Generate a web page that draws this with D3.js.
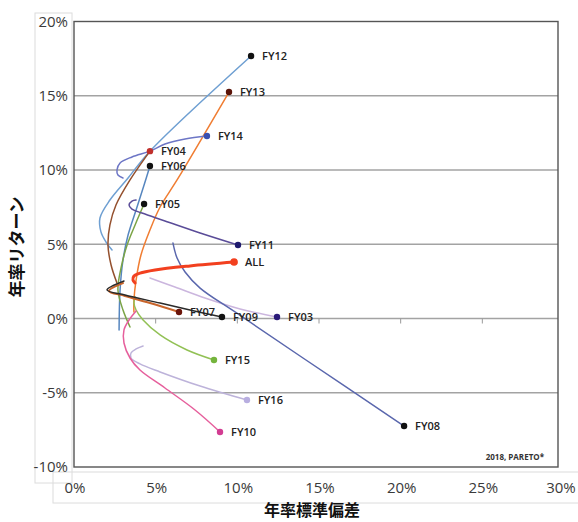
<!DOCTYPE html>
<html><head><meta charset="utf-8">
<script src="https://cdn.jsdelivr.net/npm/d3@7"></script>
<style>body{margin:0;background:#fff}svg{display:block}</style>
</head><body>
<script>
// x = annual std dev (%), y = annual return (%)
const xTicks = [0, 5, 10, 15, 20, 25, 30];
const yTicks = [20, 15, 10, 5, 0, -5, -10];
const names = ["FY12","FY13","FY14","FY04","FY06","FY05","FY11","FY08","FY03","FY07","FY09","FY15","FY16","FY10","ALL"];
const FY12 = [[2.33,4.61],[1.96,5.15],[1.65,5.83],[1.59,6.77],[2.20,7.98],[3.31,9.46],[4.65,11.27],[10.84,17.68]];
const FY13 = [[3.67,0.44],[3.67,1.25],[3.80,2.59],[4.10,4.28],[4.65,5.96],[5.27,7.51],[6.31,9.33],[9.49,15.25]];
const FY14 = [[3.00,9.46],[2.69,9.66],[2.63,10.0],[2.82,10.47],[3.55,10.88],[4.65,11.27],[5.57,11.75],[6.80,12.09],[8.14,12.29]];
const FY04 = [[2.63,2.39],[2.27,3.60],[2.08,4.95],[2.20,6.30],[2.57,7.64],[3.43,9.33],[4.65,11.27]];
const FY06 = [[2.76,-0.77],[2.82,1.92],[3.00,3.94],[3.31,5.62],[3.80,7.31],[4.29,8.99],[4.65,10.27]];
const FY05 = [[3.43,-0.57],[3.00,0.57],[2.69,1.92],[2.88,3.40],[3.25,4.95],[3.74,6.30],[4.29,7.71]];
const FY11 = [[3.80,7.98],[3.55,7.91],[3.37,7.64],[3.55,7.37],[4.16,7.10],[5.57,6.57],[7.72,5.76],[10.04,4.95]];
const FY08 = [[6.06,5.08],[6.31,4.07],[6.80,3.13],[7.72,2.05],[9.86,0.44],[14.02,-2.66],[20.21,-7.24]];
const FY03 = [[4.65,2.73],[6.18,2.12],[8.02,1.38],[10.17,0.64],[12.43,0.10]];
const FY07 = [[3.00,2.39],[2.14,1.85],[3.12,1.52],[4.65,1.04],[6.43,0.44]];
const FY09 = [[3.06,2.53],[2.02,1.92],[3.12,1.58],[5.27,1.04],[7.10,0.57],[9.06,0.10]];
const FY15 = [[3.74,1.45],[3.67,1.04],[3.80,0.57],[4.23,-0.10],[5.27,-1.11],[6.92,-2.12],[8.57,-2.79]];
const FY16 = [[4.23,-1.85],[3.80,-2.05],[3.49,-2.32],[3.49,-2.66],[4.04,-3.06],[5.27,-3.60],[7.72,-4.55],[10.59,-5.49]];
const FY10 = [[3.80,0.51],[3.37,-0.10],[3.06,-0.77],[3.06,-1.65],[3.43,-2.66],[4.04,-3.47],[5.57,-4.68],[7.41,-6.16],[8.94,-7.64]];
const ALL = [[3.74,2.39],[3.61,2.59],[3.67,2.86],[4.04,3.06],[4.96,3.27],[7.10,3.54],[9.80,3.80]];
const seriesData = {FY12,FY13,FY14,FY04,FY06,FY05,FY11,FY08,FY03,FY07,FY09,FY15,FY16,FY10,ALL};
const lineColors = {FY12:"#6e9fd2",FY13:"#f07d32",FY14:"#6d76c6",FY04:"#94502e",FY06:"#5686bf",FY05:"#7ba446",FY11:"#5a4c98",FY08:"#5a67ad",FY03:"#cbb6de",FY07:"#c8652c",FY09:"#2a2a2a",FY15:"#92c155",FY16:"#bdb3da",FY10:"#e65f9c",ALL:"#f2401f"};
const dotColors = {FY12:"#111",FY13:"#5a1308",FY14:"#3a4fb0",FY04:"#c0302c",FY06:"#111",FY05:"#111",FY11:"#1e1a6e",FY08:"#111",FY03:"#2a1a78",FY07:"#6a140a",FY09:"#111",FY15:"#74b43c",FY16:"#b8aee0",FY10:"#d23c92",ALL:"#f2401f"};

const W = 578, H = 522;
const svg = d3.select("body").append("svg").attr("width", W).attr("height", H);
const x = d3.scaleLinear().domain([0, 30]).range([74, 564]);
const y = d3.scaleLinear().domain([-10, 20]).range([467, 21.5]);
const frameRight = 558;

// faint label boxes
svg.append("rect").attr("x", 35).attr("y", 13).attr("width", 37).attr("height", 470)
  .attr("fill", "none").attr("stroke", "#dcdcdc").attr("stroke-width", 1);
svg.append("rect").attr("x", 53).attr("y", 472).attr("width", 530).attr("height", 31)
  .attr("fill", "none").attr("stroke", "#dcdcdc").attr("stroke-width", 1);

// gridlines
svg.append("g").selectAll("line").data(yTicks.filter(d => d < 20 && d > -10)).join("line")
  .attr("x1", x(0)).attr("x2", frameRight).attr("y1", d => y(d)).attr("y2", d => y(d))
  .attr("stroke", "#a3a3a3").attr("stroke-width", 1.6);
// small ticks on 0% line
svg.append("g").selectAll("line").data(xTicks.filter(d => d > 0 && d < 30)).join("line")
  .attr("x1", d => x(d)).attr("x2", d => x(d)).attr("y1", y(0)).attr("y2", y(0) + 5)
  .attr("stroke", "#9a9a9a").attr("stroke-width", 1);
// frame
svg.append("rect").attr("x", x(0)).attr("y", y(20)).attr("width", frameRight - x(0)).attr("height", y(-10) - y(20))
  .attr("fill", "none").attr("stroke", "#555").attr("stroke-width", 1.4);

// tick labels
svg.append("g").selectAll("text").data(yTicks).join("text")
  .attr("x", 68).attr("y", d => y(d)).attr("dy", "0.35em").attr("text-anchor", "end")
  .attr("font-family", "'Open Sans', sans-serif").attr("font-size", 15).attr("fill", "#3a3a3a")
  .text(d => d + "%");
svg.append("g").selectAll("text").data(xTicks).join("text")
  .attr("x", d => Math.min(x(d) + 1, 561)).attr("y", 488).attr("dy", "0.35em").attr("text-anchor", "middle")
  .attr("font-family", "'Open Sans', sans-serif").attr("font-size", 15).attr("fill", "#3a3a3a")
  .text(d => d + "%");

// axis titles
svg.append("text").attr("x", 312).attr("y", 510).attr("dy", "0.35em").attr("text-anchor", "middle")
  .attr("font-family", "'Noto Sans CJK JP', sans-serif").attr("font-weight", "bold").attr("font-size", 16)
  .attr("fill", "#111").text("年率標準偏差");
svg.append("text").attr("transform", "translate(17,247) rotate(-90)").attr("dy", "0.35em").attr("text-anchor", "middle")
  .attr("font-family", "'Noto Sans CJK JP', sans-serif").attr("font-weight", "bold").attr("font-size", 17)
  .attr("fill", "#111").text("年率リターン");

// curves
const line = d3.line().x(d => x(d[0])).y(d => y(d[1])).curve(d3.curveCatmullRom.alpha(0.5));
const order = ["FY03","FY16","FY08","FY12","FY13","FY14","FY04","FY06","FY05","FY11","FY15","FY10","FY07","FY09","ALL"];
const g = svg.append("g");
order.forEach(n => {
  g.append("path").attr("d", line(seriesData[n])).attr("fill", "none")
    .attr("stroke", lineColors[n])
    .attr("stroke-width", n === "ALL" ? 3 : (n === "FY07" ? 2 : 1.5))
    .attr("stroke-linejoin", "round").attr("stroke-linecap", "round");
});
// end dots
g.selectAll("circle").data(names).join("circle")
  .attr("cx", n => x(seriesData[n][seriesData[n].length - 1][0]))
  .attr("cy", n => y(seriesData[n][seriesData[n].length - 1][1]))
  .attr("r", n => n === "ALL" ? 3.8 : 3.2).attr("fill", n => dotColors[n]);
// labels
g.selectAll("text.lbl").data(names).join("text").attr("class", "lbl")
  .attr("x", n => x(seriesData[n][seriesData[n].length - 1][0]) + 11)
  .attr("y", n => y(seriesData[n][seriesData[n].length - 1][1]))
  .attr("dy", "0.36em")
  .attr("font-family", "'Open Sans', sans-serif").attr("font-weight", 600).attr("font-size", 11)
  .attr("fill", "#222").text(n => n);

// watermark
svg.append("text").attr("x", 544).attr("y", 460).attr("text-anchor", "end")
  .attr("font-family", "'Open Sans', sans-serif").attr("font-weight", "bold").attr("font-size", 8)
  .attr("fill", "#333").text("2018, PARETO*");
</script>
</body></html>
